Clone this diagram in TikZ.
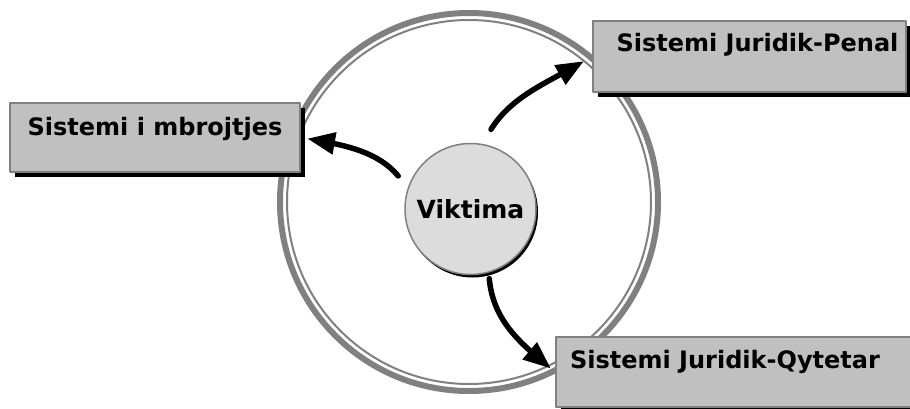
\documentclass[tikz,border=0pt]{standalone}
\usepackage{fontspec}
\setmainfont{DejaVu Sans}
\usetikzlibrary{arrows,shadows}
\definecolor{ringgray}{HTML}{808080}
\definecolor{boxgray}{HTML}{C0C0C0}
\definecolor{victimgray}{HTML}{DCDCDC}
\tikzset{
  system/.style={rectangle,draw=ringgray,line width=2pt,fill=boxgray,inner sep=0pt,
    drop shadow={shadow xshift=5pt,shadow yshift=-5pt,fill=black,opacity=1}},
  systemtext/.style={anchor=base,inner sep=0pt,font=\fontsize{24}{28}\selectfont\bfseries},
  link/.style={->,line width=5.5pt,black}
}
\begin{document}
\begin{tikzpicture}[line cap=round,line join=round,>=triangle 45,x=1pt,y=1pt]
  \useasboundingbox (0,0) rectangle (910,408);
  \clip (0,0) rectangle (910,408);
  \draw[ringgray,line width=6pt] (469,206) circle (189);
  \draw[ringgray,line width=2pt] (469,206) circle (182);

  \node[system,minimum width=290pt,minimum height=69pt] (defense) at (155,270.5) {};
  \node[system,minimum width=313pt,minimum height=71pt] (penal) at (749.5,351.5) {};
  \node[system,minimum width=359pt,minimum height=70pt] (civil) at (735.5,36) {};
  \node[systemtext] (defenselabel) at (155,273) {Sistemi i mbrojtjes};
  \node[systemtext] (penallabel) at (757.5,356) {Sistemi Juridik-Penal};
  \node[systemtext] (civillabel) at (725,40) {Sistemi Juridik-Qytetar};

  \node[circle,draw=ringgray,line width=1.5pt,fill=victimgray,inner sep=0pt,
    minimum size=131pt,
    drop shadow={shadow xshift=2pt,shadow yshift=-3pt,fill=black,opacity=1},
    font=\fontsize{25}{30}\selectfont\bfseries] (victim) at (470.5,199) {Viktima};

  \draw[link,shorten <=15pt,shorten >=7pt] (victim.161) to[out=130,in=-10] (defense.east);
  \draw[link,shorten <=17pt,shorten >=10pt] (victim.80) to[out=58,in=-150] (penal.west);
  \draw[link,shorten <=6pt,shorten >=6pt] (victim.-74) to[out=-85,in=140] (civil.west);
\end{tikzpicture}
\end{document}
